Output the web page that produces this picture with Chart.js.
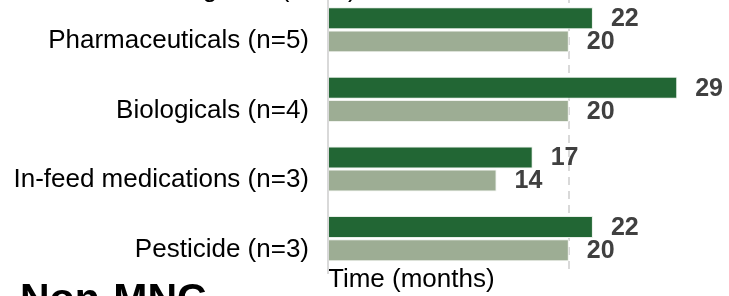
<!DOCTYPE html>
<html>
<head>
<meta charset="utf-8">
<script src="https://cdn.jsdelivr.net/npm/chart.js@4/dist/chart.umd.min.js"></script>
<style>
  html, body { margin: 0; padding: 0; background: #fff; }
  #wrap { position: relative; width: 729px; height: 296px; overflow: hidden; }
  #grafico { position: absolute; left: 0; top: -5px; }
  #titulo { position: absolute; left: 20px; top: 278px; font: bold 41px "Liberation Sans", Arial, sans-serif; line-height: 1; color: #000; white-space: nowrap; }
</style>
</head>
<body>
<div id="wrap">
  <canvas id="grafico" width="729" height="305"></canvas>
  <div id="titulo">Non-MNC</div>
</div>
<script>
// Datos
const categorias = ["Pharmaceuticals (n=5)", "Biologicals (n=4)", "In-feed medications (n=3)", "Pesticide (n=3)"];
const serieOscura = [22, 29, 17, 22];
const serieClara = [20, 20, 14, 20];
const marcasEje = [0, 20];
const tituloEje = "Time (months)";
const textoCortado = "All categories (n=15)";

const fuente = '"Liberation Sans", Arial, sans-serif';

// etiquetas de valor a la derecha de cada barra
const etiquetasValor = {
  id: 'etiquetasValor',
  afterDatasetsDraw(chart) {
    const ctx = chart.ctx;
    ctx.save();
    ctx.font = 'bold 25px ' + fuente;
    ctx.fillStyle = '#404040';
    ctx.textAlign = 'left';
    ctx.textBaseline = 'middle';
    chart.data.datasets.forEach((ds, i) => {
      chart.getDatasetMeta(i).data.forEach((bar, j) => {
        ctx.fillText(ds.data[j], bar.x + 18, bar.y + 1);
      });
    });
    ctx.restore();
  }
};

// texto de arriba que queda recortado
const textoSuperior = {
  id: 'textoSuperior',
  afterDraw(chart) {
    const ctx = chart.ctx;
    ctx.save();
    ctx.font = '26px ' + fuente;
    ctx.fillStyle = '#000';
    ctx.textBaseline = 'alphabetic';
    const x0 = 210 - ctx.measureText("All cate").width - ctx.measureText("g").width / 2;
    ctx.fillText(textoCortado, x0, 2);
    ctx.restore();
  }
};

new Chart(document.getElementById('grafico'), {
  type: 'bar',
  data: {
    labels: categorias,
    datasets: [
      { label: 'Serie 1', data: serieOscura, backgroundColor: '#226634', borderColor: '#e8efe8', borderWidth: { right: 1, top: 1, bottom: 1 }, borderSkipped: 'left' },
      { label: 'Serie 2', data: serieClara, backgroundColor: '#9dad94', borderColor: '#eef1ec', borderWidth: { right: 1, top: 1, bottom: 1 }, borderSkipped: 'left' }
    ]
  },
  options: {
    indexAxis: 'y',
    responsive: false,
    animation: false,
    layout: { padding: { top: 0, right: 0, left: 0, bottom: 13 } },
    datasets: { bar: { categoryPercentage: 0.664, barPercentage: 0.95 } },
    plugins: { legend: { display: false }, tooltip: { enabled: false } },
    scales: {
      x: {
        min: 0,
        max: 33.3,
        afterBuildTicks: scale => { scale.ticks = marcasEje.map(v => ({ value: v })); },
        ticks: { display: false },
        grid: {
          color: c => c.tick && c.tick.value === 0 ? 'rgba(0,0,0,0)' : '#d9d9d9',
          lineWidth: 2,
          drawTicks: false
        },
        border: { display: false, dash: [8, 6] },
        title: {
          display: true,
          text: tituloEje,
          align: 'start',
          color: '#000',
          font: { family: fuente, size: 26, lineHeight: 0.523 },
          padding: 0
        }
      },
      y: {
        afterFit: scale => {
          scale.width = 328;
          scale.paddingTop = 0;
          scale.paddingBottom = 0;
        },
        ticks: {
          color: '#000',
          font: { family: fuente, size: 26 },
          padding: 19,
          labelOffset: 11
        },
        grid: { display: false, drawTicks: false },
        border: { display: true, color: '#d9d9d9', width: 2 }
      }
    }
  },
  plugins: [etiquetasValor, textoSuperior]
});
</script>
</body>
</html>
